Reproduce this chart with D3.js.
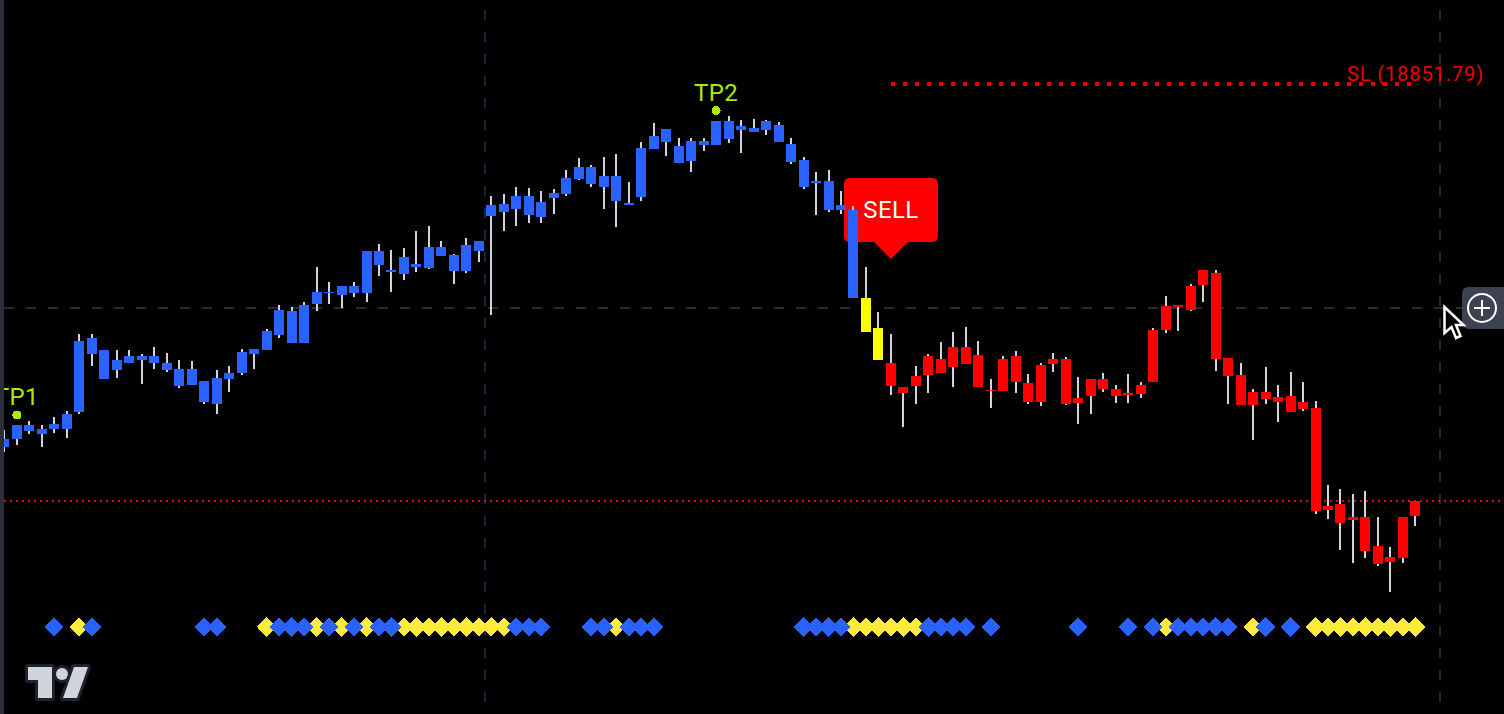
<!DOCTYPE html>
<html>
<head>
<meta charset="utf-8">
<script src="https://cdn.jsdelivr.net/npm/d3@7/dist/d3.min.js"></script>
<style>
html,body{margin:0;padding:0;background:#000;overflow:hidden}
svg{display:block}
text{font-family:Roboto,"Noto Sans",sans-serif}
</style>
</head>
<body>
<svg id="c" width="1504" height="714"></svg>
<script>
const bodyTop = [18497,18511,18511,18507,18512,18522,18595,18598,18586,18576,18580,18580,18580,18573,18567,18567,18555,18558,18563,18584,18587,18605,18626,18625,18631,18644,18644,18650,18650,18685,18685,18666,18679,18672,18689,18689,18681,18691,18695,18731,18732,18740,18740,18734,18743,18758,18769,18769,18760,18760,18733,18788,18800,18807,18790,18795,18795,18815,18815,18810,18808,18815,18811,18792,18776,18755,18755,18731,18726,18638,18608,18573,18549,18560,18580,18577,18589,18589,18581,18546,18577,18580,18553,18571,18577,18577,18538,18557,18557,18547,18543,18551,18606,18630,18631,18650,18666,18663,18578,18561,18544,18544,18539,18540,18534,18528,18430,18432,18419,18419,18390,18379,18419,18435];
const bodyBottom = [18489,18497,18505,18502,18507,18507,18524,18582,18557,18566,18573,18576,18573,18566,18550,18551,18534,18532,18557,18563,18582,18586,18601,18593,18593,18632,18643,18641,18643,18643,18671,18664,18662,18669,18668,18680,18665,18665,18685,18720,18724,18727,18721,18719,18738,18742,18757,18752,18749,18735,18731,18739,18787,18794,18773,18775,18791,18791,18797,18806,18804,18806,18794,18774,18749,18753,18726,18726,18638,18604,18576,18550,18543,18550,18561,18563,18569,18572,18549,18545,18545,18554,18534,18534,18572,18532,18533,18540,18547,18540,18541,18542,18554,18606,18629,18626,18651,18577,18560,18531,18531,18537,18534,18524,18527,18425,18426,18413,18416,18385,18372,18374,18378,18420];
const highs = [18506,18511,18515,18511,18519,18525,18602,18602,18586,18586,18586,18582,18589,18583,18576,18575,18555,18566,18570,18587,18587,18607,18631,18629,18634,18669,18654,18650,18654,18685,18692,18686,18688,18705,18710,18695,18682,18698,18695,18740,18742,18749,18748,18745,18747,18766,18778,18771,18779,18782,18754,18794,18813,18807,18798,18798,18798,18815,18820,18816,18817,18816,18814,18798,18779,18764,18766,18745,18730,18669,18624,18602,18549,18570,18582,18594,18604,18609,18595,18557,18580,18585,18562,18573,18583,18579,18559,18557,18563,18551,18562,18554,18608,18640,18631,18652,18666,18666,18578,18573,18547,18569,18551,18564,18554,18535,18451,18447,18442,18445,18419,18389,18419,18435];
const lows = [18484,18491,18502,18489,18503,18498,18522,18570,18557,18558,18573,18552,18567,18564,18548,18551,18532,18522,18544,18561,18567,18586,18598,18593,18593,18625,18632,18628,18639,18634,18660,18644,18656,18664,18667,18680,18652,18663,18674,18621,18705,18710,18713,18713,18722,18740,18756,18749,18727,18709,18731,18735,18787,18780,18773,18764,18785,18791,18793,18783,18804,18801,18794,18772,18747,18721,18724,18722,18638,18604,18576,18541,18509,18532,18543,18563,18549,18572,18549,18528,18545,18543,18532,18530,18564,18531,18512,18522,18544,18533,18533,18538,18554,18603,18605,18625,18634,18565,18532,18531,18496,18532,18514,18524,18525,18422,18417,18386,18373,18378,18370,18344,18373,18410];
const regimeNames = ["blue","yellow","red"];
const regimeLengths = [69,2,43];

const blueDots = [4,7,16,17,22,23,24,26,28,30,31,41,42,43,47,48,50,51,52,64,65,66,67,74,75,76,77,79,86,90,92,94,95,96,97,98,101,103];
const yellowDots = [6,21,25,27,29,32,33,34,35,36,37,38,39,40,49,68,69,70,71,72,73,93,100,105,106,107,108,109,110,111,112,113];

const stopLossPrice = 18851.79;
const stopLossLabel = "SL (18851.79)";
const lowerLevelPrice = 18435;
const midLevelPrice = 18628;
const tpMarks = [{label:"TP1",bar:1,price:18521},{label:"TP2",bar:57,price:18825.5}];
const sellBar = 71;
const sellLabel = "SELL";

const palette = {blue:"#2962ff",yellow:"#ffff00",red:"#ff0000",wick:"#d1d4dc",dotBlue:"#2962ff",dotYellow:"#ffeb3b",lime:"#aeea00"};

const W = 1504, H = 714;
const n = bodyTop.length;
const x = d3.scaleLinear().domain([0,n-1]).range([4.4,1415.4]);
const y = d3.scaleLinear().domain([18936,18936-H]).range([0,H]);
const regimes = regimeNames.flatMap((r,i)=>d3.range(regimeLengths[i]).map(()=>r));
const svg = d3.select("#c");
const px = i => Math.round(x(i));

svg.append("rect").attr("width",W).attr("height",H).attr("fill","#000");

// session lines
const vLines = [{x:485,c:"#14243f"},{x:1440,c:"#2a2a2a"}];
svg.selectAll(".v").data(vLines).join("line")
  .attr("x1",d=>d.x).attr("x2",d=>d.x).attr("y1",10).attr("y2",703)
  .attr("stroke",d=>d.c).attr("stroke-width",2).attr("stroke-dasharray","10 12")
  .attr("shape-rendering","crispEdges");
// crosshair horizontal
svg.append("line").attr("x1",4).attr("x2",W).attr("y1",y(midLevelPrice)).attr("y2",y(midLevelPrice))
  .attr("stroke","#2c2c2c").attr("stroke-width",2).attr("stroke-dasharray","10 12").attr("shape-rendering","crispEdges");
// lower dotted
svg.append("line").attr("x1",4).attr("x2",W).attr("y1",y(lowerLevelPrice)).attr("y2",y(lowerLevelPrice))
  .attr("stroke","#f00000").attr("stroke-width",2).attr("stroke-dasharray","2 4").attr("shape-rendering","crispEdges");
// SL dotted
svg.append("line").attr("x1",891).attr("x2",1413).attr("y1",y(stopLossPrice)).attr("y2",y(stopLossPrice))
  .attr("stroke","#f00000").attr("stroke-width",4).attr("stroke-dasharray","4 8").attr("shape-rendering","crispEdges");
svg.append("text").attr("x",1484).attr("y",y(stopLossPrice)-3).attr("text-anchor","end")
  .attr("font-size",20).attr("letter-spacing",0.9).attr("fill","#ee0000").text(stopLossLabel);

// SELL bubble
const sx = x(sellBar);
svg.append("path").attr("fill","#ff0000")
  .attr("d",`M${sx-47+6},178 H${sx+47-6} Q${sx+47},178 ${sx+47},184 V236 Q${sx+47},242 ${sx+41},242 H${sx+17} L${sx},259 L${sx-17},242 H${sx-41} Q${sx-47},242 ${sx-47},236 V184 Q${sx-47},178 ${sx-41},178 Z`);
svg.append("text").attr("x",sx).attr("y",218).attr("text-anchor","middle")
  .attr("font-size",24).attr("letter-spacing",0.4).attr("fill","#fff").text(sellLabel);

// wicks + bodies
const bars = d3.range(n);
svg.append("g").attr("shape-rendering","crispEdges").selectAll("rect").data(bars).join("rect")
  .attr("x",i=>px(i)-1).attr("width",2)
  .attr("y",i=>y(highs[i])).attr("height",i=>y(lows[i])-y(highs[i]))
  .attr("fill",palette.wick);
svg.append("g").attr("shape-rendering","crispEdges").selectAll("rect").data(bars).join("rect")
  .attr("x",i=>px(i)-5).attr("width",10)
  .attr("y",i=>y(bodyTop[i])).attr("height",i=>Math.max(1,y(bodyBottom[i])-y(bodyTop[i])))
  .attr("fill",i=>palette[regimes[i]]);

// TP marks
const tp = svg.append("g").selectAll("g").data(tpMarks).join("g");
tp.append("circle").attr("cx",d=>x(d.bar)).attr("cy",d=>y(d.price)).attr("r",4.5)
  .attr("fill",palette.lime).attr("shape-rendering","crispEdges");
tp.append("text").attr("x",d=>x(d.bar)).attr("y",d=>y(d.price)-10).attr("text-anchor","middle")
  .attr("font-size",24).attr("letter-spacing",0.4).attr("fill",palette.lime).text(d=>d.label);

// diamonds
const dia = d3.symbol().type(d3.symbolSquare).size(185);
const dy = 627;
const diamonds = (data,color)=>svg.append("g").attr("shape-rendering","crispEdges").selectAll("path").data(data).join("path")
  .attr("d",dia()).attr("fill",color)
  .attr("transform",i=>`translate(${x(i)},${dy}) rotate(45)`);
diamonds(yellowDots,palette.dotYellow);
diamonds(blueDots,palette.dotBlue);

// left edge bar
svg.append("rect").attr("x",0).attr("y",0).attr("width",4).attr("height",H).attr("fill","#2a2e39");

// TradingView logo
const logo = svg.append("g").attr("fill","#d1d4dc").attr("stroke","#1e222d").attr("stroke-width",6).attr("paint-order","stroke").attr("stroke-linejoin","round");
logo.append("path").attr("d","M28,667 H52 V698 H38 V680 H28 Z");
logo.append("circle").attr("cx",62).attr("cy",674).attr("r",6);
logo.append("path").attr("d","M74,667 H88 L77,698 H63 Z");

// plus button
svg.append("path").attr("fill","#3d4250").attr("d","M1504,287 H1469 Q1462,287 1462,294 V322 Q1462,329 1469,329 H1504 Z");
svg.append("circle").attr("cx",1482).attr("cy",308).attr("r",14).attr("fill","none").attr("stroke","#fff").attr("stroke-width",2);
svg.append("path").attr("d","M1474,308 H1490 M1482,300 V316").attr("stroke","#fff").attr("stroke-width",2);

// cursor
svg.append("path").attr("d","M1444.5,307 V333 L1451.5,327 L1456,338 L1460.5,336 L1456,325 L1463.5,325 Z")
  .attr("fill","#000").attr("stroke","#fff").attr("stroke-width",2.5).attr("stroke-linejoin","miter");
</script>
</body>
</html>
